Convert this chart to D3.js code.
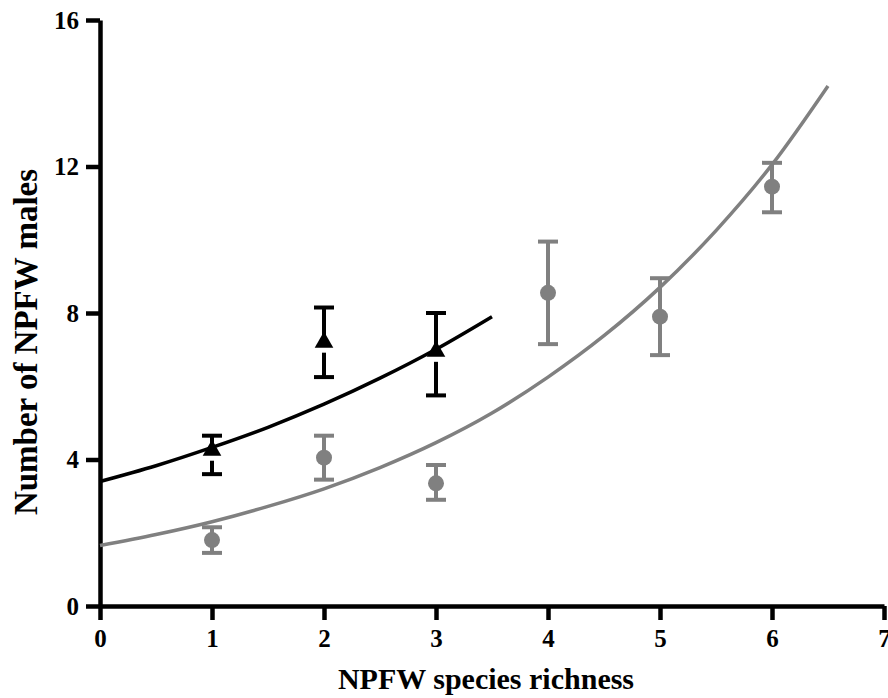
<!DOCTYPE html>
<html>
<head>
<meta charset="utf-8">
<script src="https://cdn.jsdelivr.net/npm/d3@7"></script>
<style>
  body { margin: 0; background: #fff; }
  svg { display: block; }
</style>
</head>
<body>
<svg id="chart"></svg>
<script>
// NPFW richness groups (x)
const triX = [1, 2, 3]
const triMean = [4.25, 7.2, 6.95]
const triLo = [3.6, 6.25, 5.75]
const triHi = [4.65, 8.15, 8.0]

const dotX = [1, 2, 3, 4, 5, 6]
const dotMean = [1.8, 4.05, 3.35, 8.55, 7.9, 11.45]
const dotLo = [1.45, 3.45, 2.9, 7.15, 6.85, 10.75]
const dotHi = [2.15, 4.65, 3.85, 9.95, 8.95, 12.1]

// fitted curves
const blackFitX = [0, 0.5, 1, 1.5, 2, 2.5, 3, 3.5]
const blackFitY = [3.4, 3.83, 4.33, 4.88, 5.51, 6.22, 7.01, 7.9]
const grayFitX = [0, 0.5, 1, 1.5, 2, 2.5, 3, 3.5, 4, 4.5, 5, 5.5, 6, 6.5]
const grayFitY = [1.65, 1.95, 2.3, 2.72, 3.2, 3.78, 4.46, 5.27, 6.25, 7.38, 8.7, 10.25, 12.05, 14.2]

const xTicks = [0, 1, 2, 3, 4, 5, 6, 7]
const yTicks = [0, 4, 8, 12, 16]

const width = 888, height = 698
const margin = {top: 20, right: 4, bottom: 92, left: 100}
const gray = "#808080"
const font = "'Liberation Serif', 'Times New Roman', serif"

const svg = d3.select("#chart").attr("width", width).attr("height", height)

const x = d3.scaleLinear([0, 7], [margin.left, width - margin.right])
const y = d3.scaleLinear([0, 16], [height - margin.bottom, margin.top])

// axes
const xAxis = svg.append("g")
    .attr("transform", `translate(0,${y(0)})`)
    .call(d3.axisBottom(x).tickValues(xTicks).tickFormat(d3.format("d")).tickSize(14).tickSizeOuter(0).tickPadding(9))
const yAxis = svg.append("g")
    .attr("transform", `translate(${x(0)},0)`)
    .call(d3.axisLeft(y).tickValues(yTicks).tickFormat(d3.format("d")).tickSize(14).tickSizeOuter(0).tickPadding(7))

for (const g of [xAxis, yAxis]) {
  g.select(".domain").attr("stroke", "#000").attr("stroke-width", 4.5)
  g.selectAll(".tick line").attr("stroke", "#000").attr("stroke-width", 4.5)
  g.selectAll(".tick text")
      .attr("fill", "#000")
      .style("font-family", font)
      .style("font-weight", "bold")
      .style("font-size", "25px")
}

// fitted lines
const line = d3.line().x(d => x(d[0])).y(d => y(d[1])).curve(d3.curveMonotoneX)

svg.append("path")
    .datum(grayFitX.map((v, i) => [v, grayFitY[i]]))
    .attr("fill", "none")
    .attr("stroke", gray)
    .attr("stroke-width", 3.5)
    .attr("d", line)

svg.append("path")
    .datum(blackFitX.map((v, i) => [v, blackFitY[i]]))
    .attr("fill", "none")
    .attr("stroke", "#000")
    .attr("stroke-width", 3.5)
    .attr("d", line)

// gray circles with error bars
const capW = 10
const dots = svg.append("g").attr("stroke", gray).attr("stroke-width", 4)
dotX.forEach((v, i) => {
  const cx = x(v)
  dots.append("line").attr("x1", cx).attr("x2", cx).attr("y1", y(dotHi[i])).attr("y2", y(dotLo[i]))
  dots.append("line").attr("x1", cx - capW).attr("x2", cx + capW).attr("y1", y(dotHi[i])).attr("y2", y(dotHi[i]))
  dots.append("line").attr("x1", cx - capW).attr("x2", cx + capW).attr("y1", y(dotLo[i])).attr("y2", y(dotLo[i]))
  dots.append("circle").attr("cx", cx).attr("cy", y(dotMean[i])).attr("r", 8).attr("fill", gray).attr("stroke", "none")
})

// black triangles with error bars (a small gap under each triangle)
const triSize = 150
const triR = Math.sqrt(triSize / (Math.sqrt(3) * 3))
const tris = svg.append("g").attr("stroke", "#000").attr("stroke-width", 4)
triX.forEach((v, i) => {
  const cx = x(v), cy = y(triMean[i])
  tris.append("line").attr("x1", cx).attr("x2", cx).attr("y1", y(triHi[i])).attr("y2", cy)
  tris.append("line").attr("x1", cx).attr("x2", cx).attr("y1", cy + triR + 5).attr("y2", y(triLo[i]))
  tris.append("line").attr("x1", cx - capW).attr("x2", cx + capW).attr("y1", y(triHi[i])).attr("y2", y(triHi[i]))
  tris.append("line").attr("x1", cx - capW).attr("x2", cx + capW).attr("y1", y(triLo[i])).attr("y2", y(triLo[i]))
  tris.append("path")
      .attr("transform", `translate(${cx},${cy})`)
      .attr("d", d3.symbol(d3.symbolTriangle, triSize)())
      .attr("fill", "#000")
      .attr("stroke", "none")
})

// axis titles
svg.append("text")
    .attr("x", (x(0) + x(7)) / 2 - 6)
    .attr("y", 689)
    .attr("text-anchor", "middle")
    .style("font-family", font)
    .style("font-weight", "bold")
    .style("font-size", "30px")
    .text("NPFW species richness")

svg.append("text")
    .attr("transform", "translate(37,342) rotate(-90)")
    .attr("text-anchor", "middle")
    .style("font-family", font)
    .style("font-weight", "bold")
    .style("font-size", "33px")
    .text("Number of NPFW males")
</script>
</body>
</html>
